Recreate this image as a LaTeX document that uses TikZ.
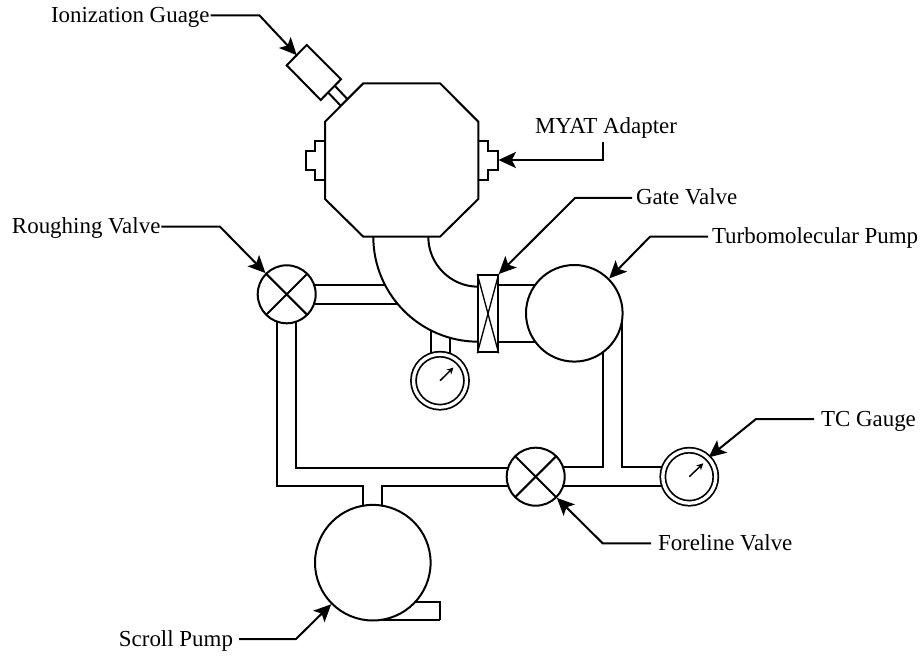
\documentclass[tikz,border=0pt]{standalone}
\usepackage{fontspec}
\setmainfont{Liberation Serif}
\usetikzlibrary{calc,arrows.meta}

\begin{document}
\begin{tikzpicture}[x=0.75pt, y=-0.75pt, line width=1.5pt]
                \tikzstyle{valve} = [circle, draw, fill=white, minimum size=58*0.75pt, inner sep=0pt, path picture={\draw (path picture bounding box.north west) -- (path picture bounding box.south east) (path picture bounding box.north east) -- (path picture bounding box.south west);}]
                \tikzstyle{pump} = [circle, draw, fill=white, inner sep=0pt]
                \tikzstyle{gauge} = [circle, draw, fill=white, line width=1.3pt, double, double distance=2.5pt, minimum size=53*0.75pt, inner sep=0pt]
                \tikzstyle{label} = [inner sep=0pt, text height=10.5pt, text depth=0pt, font=\fontsize{17.2pt}{20pt}\selectfont]
                \tikzstyle{arrow} = [-{Stealth[length=13pt, width=12pt, inset=3pt]}]
                \tikzstyle{needle} = [line width=1.1pt, -{Stealth[length=5pt, width=5pt]}]
                \useasboundingbox (0,0) rectangle (922,656);

                % pipes
                \draw (286.7,285) -- (384.9,285);
                \draw (286.7,304.3) -- (397.7,304.3);
                \draw (277,294) -- (277,485.7) -- (363.3,485.7) -- (363.3,520);
                \draw (296.3,294) -- (296.3,468) -- (535.7,468);
                \draw (382.3,520) -- (382.3,485.7) -- (535.7,485.7);
                \draw (535.7,467) -- (603.3,467) -- (603.3,345);
                \draw (622.3,313.3) -- (622.3,467) -- (689.3,467);
                \draw (535.7,486.3) -- (689.3,486.3);
                \draw (497.7,285) -- (540,285);
                \draw (497.7,342.3) -- (540,342.3);
                \draw (430.7,330.6) -- (430.7,380);
                \draw (450,338.1) -- (450,380);
                \draw (440,620) -- (440,601.7) -- (410,601.7);
                \draw (440,620) -- (373,620);

                % chamber
                \draw[fill=white] (363.3,83.3) -- (440,83.3) -- (478.3,121.7) -- (478.3,199) -- (440,236.7) -- (363.3,236.7) -- (325,199) -- (325,121.7) -- cycle;
                \draw (325,140.7) -- (315,140.7) -- (315,150.7) -- (305.7,150.7) -- (305.7,170) -- (315,170) -- (315,180) -- (325,180);
                \draw (478.3,140.7) -- (488,140.7) -- (488,150.7) -- (498,150.7) -- (498,170) -- (488,170) -- (488,180) -- (478.3,180);
                \draw (373.3,236.7) arc[start angle=180, end angle=90, radius=105];
                \draw (428.3,236.7) arc[start angle=180, end angle=90, radius=50];

                % ionization gauge head
                \draw (335,86) -- (347.3,99);
                \draw (328.3,92.7) -- (340.7,105.7);
                \draw[fill=white] (306.7,45) coordinate (headA) -- (341,79.3) -- (320.7,100) -- (286.7,65.3) coordinate (headB) -- cycle;
                \coordinate (headTip) at ($(headA)!0.5!(headB)$);

                % gate valve
                \node (gate) [draw, fill=white, inner sep=0pt, minimum width=19.4*0.75pt, minimum height=77.3*0.75pt] at (488,313.7) {};
                \draw[line width=1pt] (gate.north west) -- (gate.south east);
                \draw[line width=1pt] (gate.north east) -- (gate.south west);

                \node (rough) [valve] at (286.7,294.3) {};
                \node (fore) [valve] at (535.7,476.7) {};
                \node (turbo) [pump, minimum size=96.6*0.75pt] at (574.3,313.3) {};
                \node (scroll) [pump, minimum size=115.6*0.75pt] at (372.8,562.7) {};
                \node (pirani) [gauge] at (440,380.7) {};
                \node (tc) [gauge] at (689.3,476.7) {};
                \coordinate (piraniTip) at (453.5,367.5);
                \coordinate (tcTip) at (703.3,463.3);
                \draw[needle] (pirani.center) -- (piraniTip);
                \draw[needle] (tc.center) -- (tcTip);

                % labels
                \node (ionLabel) [label, anchor=west] at (50,15.5) {Ionization Guage};
                \node (myatLabel) [label, anchor=west] at (534,127) {MYAT Adapter};
                \node (gateLabel) [label, anchor=west] at (635,198) {Gate Valve};
                \node (turboLabel) [label, anchor=west] at (711,236.7) {Turbomolecular Pump};
                \node (roughLabel) [label, anchor=west] at (11,226.7) {Roughing Valve};
                \node (tcLabel) [label, anchor=west] at (820,419) {TC Gauge};
                \node (foreLabel) [label, anchor=west] at (657,543.3) {Foreline Valve};
                \node (scrollLabel) [label, anchor=east] at (234,639) {Scroll Pump};

                \draw [arrow] (ionLabel.east) -- ++(49,0) -- (headTip);
                \draw [arrow] (603.3,141.7) -- (603.3,160) -- (498.5,160);
                \draw [arrow] (gateLabel.west) ++(-3,0) -- (575,198) -- (gate.north east);
                \draw [arrow] (turboLabel.west) ++(-3,0) -- (650,236.7) -- (turbo.45);
                \draw [arrow] (roughLabel.east) -- (220,226.7) -- (rough.135);
                \draw [arrow] (tcLabel.west) ++(-6,0) -- (756,419) -- (tc.45);
                \draw [arrow] (foreLabel.west) ++(-6,0) -- (602.7,543.3) -- (fore.-45);
                \draw [arrow] (scrollLabel.east) ++(5,0) -- (296,639) -- (scroll.225);
            \end{tikzpicture}
\end{document}
